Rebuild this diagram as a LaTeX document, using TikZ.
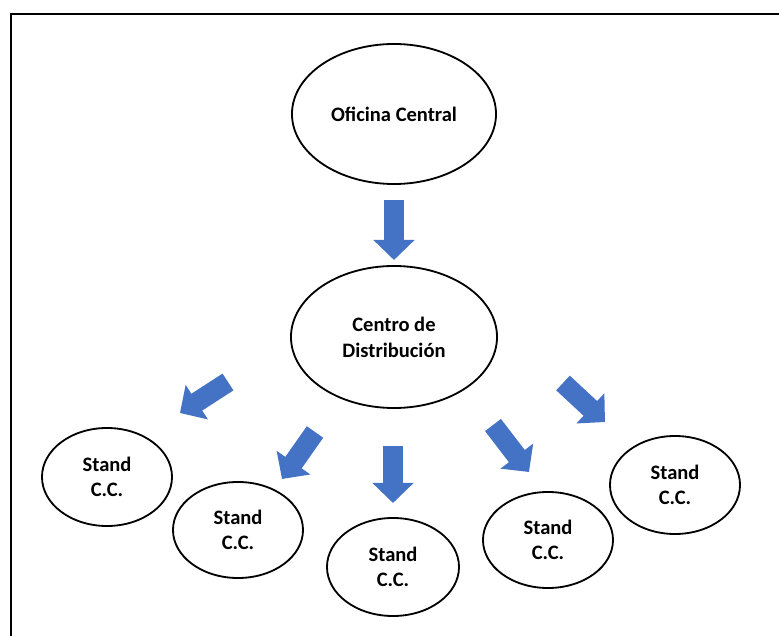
\documentclass[tikz,border=0pt]{standalone}
\usepackage{fontspec}
\setmainfont{Carlito}
\usetikzlibrary{shapes.geometric,arrows.meta}
\definecolor{arrowblue}{HTML}{4472C4}
\tikzset{oval/.style = {ellipse, draw, line width=1.3pt, align=center,
                        font=\fontsize{14.6}{17.5}\selectfont\bfseries},
         bigarrow/.style = {arrowblue, line width=0.5cm,
                        -{Triangle[length=0.5cm, width=1cm]}}}

\begin{document}
\begin{tikzpicture}[x=0.025cm, y=-0.025cm]
\useasboundingbox (0,0) rectangle (779,636);
\draw [line width=1.4pt] (11,636) -- (11,14) -- (779,14);
% ovals
\node [oval, minimum width=5.1cm, minimum height=3.5cm] (ofi) at (394,114) {Oficina Central};
\node [oval, minimum width=5.15cm, minimum height=3.55cm, font=\fontsize{14.6}{18.5}\selectfont\bfseries] (cdist) at (394,337) {Centro de\\Distribución};
\node [oval, minimum width=3.25cm, minimum height=2.45cm] (st1) at (107,477) {Stand\\C.C.};
\node [oval, minimum width=3.25cm, minimum height=2.4cm] (st2) at (238,530) {Stand\\C.C.};
\node [oval, minimum width=3.3cm, minimum height=2.45cm] (st3) at (393,567) {Stand\\C.C.};
\node [oval, minimum width=3.25cm, minimum height=2.4cm] (st4) at (548,540) {Stand\\C.C.};
\node [oval, minimum width=3.25cm, minimum height=2.45cm] (st5) at (675,485) {Stand\\C.C.};
% arrows
\coordinate (t0) at (394,200); \coordinate (h0) at (394,260);
\coordinate (t1) at (228,382); \coordinate (h1) at (180,413);
\coordinate (t2) at (315,432); \coordinate (h2) at (282,479);
\coordinate (t3) at (393,446); \coordinate (h3) at (393,503);
\coordinate (t4) at (493,425); \coordinate (h4) at (529,472);
\coordinate (t5) at (563,383); \coordinate (h5) at (605,422);
\foreach \i in {0,...,5}
  \draw [bigarrow] (t\i) -- (h\i);
\end{tikzpicture}
\end{document}
